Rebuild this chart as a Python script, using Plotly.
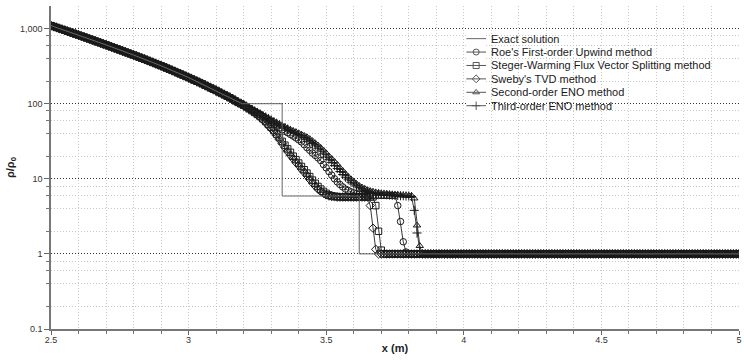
import numpy as np
import plotly.graph_objects as go

# ---------------- data ----------------
x_start, x_end, n_pts = 2.5, 5.0, 251          # grid of the numerical solutions (dx = 0.01)

# common rarefaction part, x = 2.50 ... 3.21
rarefaction = [
    1096, 1066, 1036, 1006, 978, 951, 923, 896, 870, 845,
    820, 796, 773, 750, 728, 706, 685, 665, 645, 625,
    607, 588, 570, 553, 536, 520, 504, 488, 473, 459,
    445, 431, 417, 404, 391, 378, 366, 354, 342, 331,
    320, 309, 298, 288, 278, 268, 258, 249, 240, 231,
    223, 214, 206, 199, 191, 184, 176, 169, 162, 156,
    150, 143, 137, 131, 126, 120, 115, 109, 104, 99.6,
    95.1, 90.5,
]
ambient = 1.0   # undisturbed state to the right of the shocks

# individual parts starting at x = 3.22
roe_tail = [86.5, 82.5, 79, 75.5, 72, 68, 64, 60, 56, 53,
            50, 47.5, 45, 43, 41, 39, 37, 35, 33, 31,
            28.5, 26, 24, 22, 20.5, 19, 17.5, 15.5, 14, 12.5,
            11.2, 10.0, 9.1, 8.4, 7.8, 7.3, 7.0, 6.7, 6.5, 6.35,
            6.25, 6.15, 6.1, 6.05] + [6.0] * 10 + [4.4, 2.7, 1.45, 1.06]
steger_tail = [85.5, 81, 76.5, 72, 67.5, 63, 58, 53, 48.5, 44,
               39.5, 35.5, 31.5, 28, 25, 22.5, 20, 18, 16.2, 14.6,
               13.2, 11.9, 10.7, 9.6, 8.7, 7.9, 7.3, 6.8, 6.4, 6.1,
               5.95, 5.85, 5.8] + [5.75] * 13 + [4.4, 2.0, 1.12]
sweby_tail = [85, 80, 75.5, 71, 66, 61, 56, 51, 46.5, 42,
              37.5, 33.5, 29.5, 26, 23, 20.5, 18.5, 16.5, 15, 13.5,
              12.2, 11, 9.8, 8.8, 8.0, 7.3, 6.8, 6.4, 6.1, 5.9,
              5.8, 5.75] + [5.7] * 12 + [4.4, 2.2, 1.15]
eno2_tail = [87.5, 84, 80.5, 77, 73.5, 70.5, 67.5, 64.5, 61.5, 58.5,
             56, 53.5, 51, 49, 47, 45, 43.5, 42, 40.5, 39,
             37.5, 36, 34, 32, 30, 28, 26, 24, 22, 20,
             18.5, 17, 15.5, 14, 12.8, 11.7, 10.7, 9.9, 9.2, 8.6,
             8.1, 7.7, 7.4, 7.1, 6.9, 6.75, 6.6, 6.5, 6.4, 6.35,
             6.3, 6.25, 6.2, 6.15, 6.1, 6.05, 6.0, 6.0, 5.95, 5.95,
             5.5, 2.4, 1.28]
eno3_tail = [87, 83.5, 80, 76.5, 73, 69.5, 66.5, 63.5, 60.5, 57.5,
             55, 52.5, 50, 48, 46, 44, 42, 40.5, 39, 37.5,
             35.5, 33.5, 31.5, 29.5, 27.5, 25.5, 23.5, 21.5, 19.5, 18,
             16.5, 15, 13.7, 12.5, 11.4, 10.5, 9.7, 9.0, 8.5, 8.0,
             7.6, 7.3, 7.0, 6.8, 6.6, 6.5, 6.4, 6.3, 6.25, 6.2,
             6.15, 6.1, 6.05, 6.0, 6.0, 5.95, 5.95, 5.9, 5.9, 5.8,
             3.8, 1.9, 1.1]

# exact solution (polyline)
exact_x = [2.5, 2.6, 2.7, 2.8, 2.9, 3.0, 3.1, 3.15, 3.195, 3.34, 3.34, 3.62, 3.62, 5.0]
exact_rho = [1096, 820, 607, 445, 320, 223, 150, 120, 100, 100, 5.9, 5.9, 1.0, 1.0]

series_names = [
    "Exact solution",
    "Roe's First-order Upwind method",
    "Steger-Warming Flux Vector Splitting method",
    "Sweby's TVD method",
    "Second-order ENO method",
    "Third-order ENO method",
]
series_tails = [roe_tail, steger_tail, sweby_tail, eno2_tail, eno3_tail]
series_symbols = [None, "circle-open", "square-open", "diamond-open", "triangle-up-open", "cross-thin-open"]

x_ticks = [2.5, 3, 3.5, 4, 4.5, 5]
x_ticktext = ["2.5", "3", "3.5", "4", "4.5", "5"]
y_ticks = [0.1, 1, 10, 100, 1000]
y_ticktext = ["0.1", "1", "10", "100", "1,000"]
y_minor = [0.2, 0.4, 0.6, 0.8, 2, 4, 6, 8, 20, 40, 60, 80, 200, 400, 600, 800]

# ---------------- figure ----------------
x_grid = np.round(np.linspace(x_start, x_end, n_pts), 2)

def full_series(tail):
    vals = rarefaction + tail
    return vals + [ambient] * (n_pts - len(vals))

MARK = "#1a1a1a"
LINE = "#3a3a3a"
EXACT = "#666666"
DOTS = "1px,2px"

fig = go.Figure()
for tail, sym in zip(series_tails, series_symbols[1:]):
    fig.add_trace(go.Scatter(
        x=x_grid, y=full_series(tail), mode="lines+markers",
        line=dict(color=LINE, width=1),
        marker=dict(symbol=sym, size=6.5, color=MARK, line=dict(color=MARK, width=1)),
        showlegend=False))
fig.add_trace(go.Scatter(x=exact_x, y=exact_rho, mode="lines",
                         line=dict(color=EXACT, width=1), showlegend=False))

# custom compact legend (own small axis pair)
for i, (name, sym) in enumerate(zip(series_names, series_symbols)):
    fig.add_trace(go.Scatter(x=[0, 1], y=[i, i], mode="lines", xaxis="x2", yaxis="y2",
                             line=dict(color=EXACT if sym is None else "#555", width=1),
                             showlegend=False, hoverinfo="skip"))
    if sym is not None:
        fig.add_trace(go.Scatter(x=[0.5], y=[i], mode="markers", xaxis="x2", yaxis="y2",
                                 marker=dict(symbol=sym, size=6, color="#555",
                                             line=dict(color="#555", width=1)),
                                 showlegend=False, hoverinfo="skip"))
    fig.add_annotation(x=1, y=i, xref="x2", yref="y2", text=name, showarrow=False,
                       xanchor="left", yanchor="middle", xshift=3,
                       font=dict(family="Liberation Sans", size=11, color="#1a1a1a"))

axis_font = dict(family="Liberation Sans", size=9, color="#333")
fig.update_layout(
    width=744, height=363,
    margin=dict(l=51, r=2, t=6, b=34),
    paper_bgcolor="white", plot_bgcolor="white",
    showlegend=False,
    xaxis=dict(
        range=[x_start, x_end], tickmode="array", tickvals=x_ticks, ticktext=x_ticktext,
        ticks="outside", ticklen=4, tickcolor="#666", tickfont=axis_font,
        ticklabeloverflow="allow", ticklabelstandoff=-3,
        showline=True, linecolor="#777", linewidth=1.5,
        showgrid=True, gridcolor="#c8c8c8", griddash=DOTS, gridwidth=1,
        zeroline=False,
        minor=dict(dtick=0.1, ticks="outside", ticklen=3, tickcolor="#777",
                   showgrid=True, gridcolor="#c8c8c8", griddash=DOTS, gridwidth=1),
        title=dict(text="<b>x (m)</b>", font=dict(family="Liberation Sans", size=11, color="#222"),
                   standoff=1),
    ),
    yaxis=dict(
        type="log", range=[-1, np.log10(2000)], tickmode="array", tickvals=y_ticks,
        ticktext=y_ticktext, ticks="outside", ticklen=5, tickcolor="#666", tickfont=axis_font,
        showline=True, linecolor="#777", linewidth=1.5,
        showgrid=True, gridcolor="#333", griddash=DOTS, gridwidth=1,
        zeroline=False,
        minor=dict(tickmode="array", tickvals=y_minor, ticks="outside", ticklen=3, tickcolor="#777",
                   showgrid=True, gridcolor="#c8c8c8", griddash=DOTS, gridwidth=1),
        title=dict(text="<b>ρ/ρ<sub>0</sub></b>", font=dict(family="Liberation Sans", size=11, color="#222"),
                   standoff=3),
    ),
    xaxis2=dict(domain=[0.6035, 0.6324], range=[0, 1], visible=False, anchor="y2", fixedrange=True),
    yaxis2=dict(domain=[0.6705, 0.9197], range=[5.5, -0.5], visible=False, anchor="x2", fixedrange=True),
)

fig.write_html("out.html")
